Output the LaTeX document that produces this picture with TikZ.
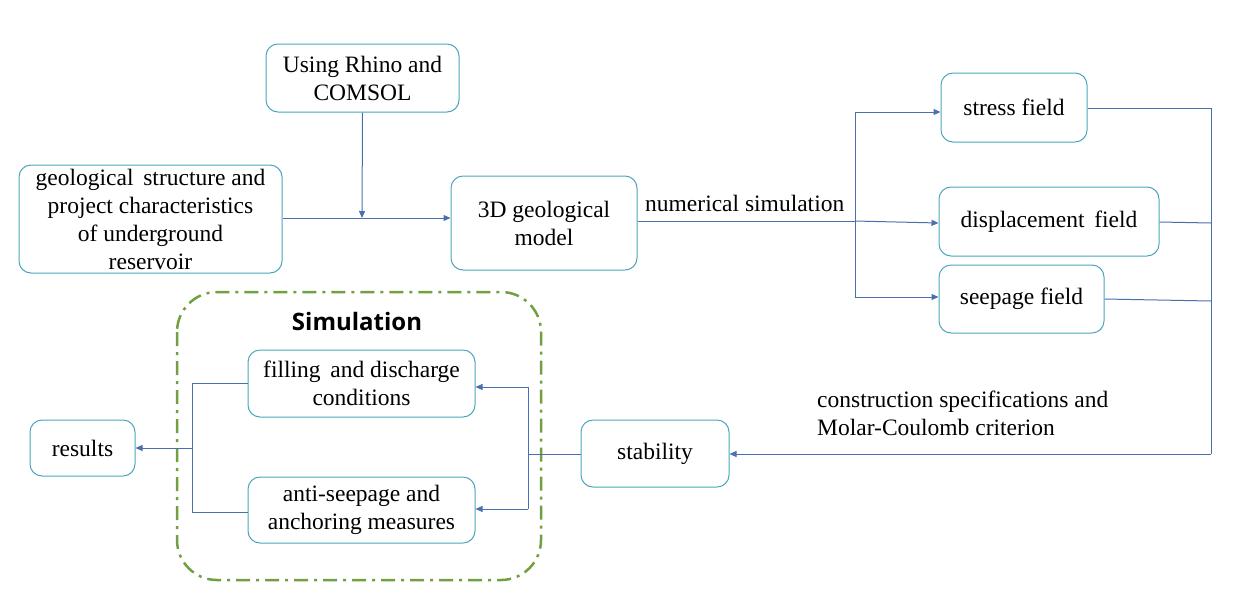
\documentclass[tikz,border=0pt]{standalone}
\usepackage{fontspec}
\setmainfont{Liberation Serif}
\newfontfamily\sanstitle{Open Sans}
\usetikzlibrary{arrows.meta}
\definecolor{boxc}{HTML}{4BA6BC}
\definecolor{linec}{HTML}{4A6FAF}
\definecolor{grn}{HTML}{70A040}
\tikzset{
  bx/.style={draw=boxc, line width=1pt, rounded corners=12pt, fill=white, align=center, inner sep=0pt, font=\fontsize{23.5}{28}\selectfont},
  ln/.style={draw=linec, line width=1pt},
  ar/.style={ln, -{Triangle[length=7pt,width=6pt]}},
  lbl/.style={font=\fontsize{23.5}{28}\selectfont, inner sep=0pt}
}
\begin{document}
\begin{tikzpicture}[x=1pt,y=-1pt]
\useasboundingbox (0,0) rectangle (1249,606);
% dashed group
\draw[grn, line width=2.5pt, dash pattern=on 14pt off 6pt on 3pt off 6pt, rounded corners=40pt] (177,292) rectangle (541,580);
\node[font=\sanstitle\bfseries\fontsize{24}{28}\selectfont] (simt) at (357,321) {Simulation};
% boxes
\node[bx, minimum width=193pt, minimum height=68pt] (rhino) at (362.5,78) {Using Rhino and\\COMSOL};
\node[bx, minimum width=263pt, minimum height=108pt] (geo) at (150.5,219) {geological\, structure and\\project characteristics\\of underground\\reservoir};
\node[bx, minimum width=186pt, minimum height=94pt] (model) at (544,223) {3D geological\\model};
\node[bx, minimum width=146pt, minimum height=69pt] (stress) at (1014,107.5) {stress field};
\node[bx, minimum width=220pt, minimum height=69pt] (disp) at (1049,221.5) {displacement\, field};
\node[bx, minimum width=165pt, minimum height=68pt] (seep) at (1021.5,299) {seepage field};
\node[bx, minimum width=148pt, minimum height=67pt] (stab) at (655,453.5) {stability};
\node[bx, minimum width=105pt, minimum height=56pt] (res) at (82.5,448) {results};
\node[bx, minimum width=227pt, minimum height=67pt] (fill) at (361.5,383.5) {filling\, and discharge\\conditions};
\node[bx, minimum width=227pt, minimum height=66pt] (anti) at (361.5,510) {anti-seepage and\\anchoring measures};
% labels
\node[lbl, anchor=base west] (numlbl) at (645,211) {numerical simulation};
\node[lbl, anchor=base west, align=left] (crit) at (817,435) {construction specifications and\\Molar-Coulomb criterion};
% coordinates
\coordinate (j1) at (362,218);
\coordinate (b1) at (855,221);
\coordinate (r1) at (1211,108);
\coordinate (r2) at (1211,454);
\coordinate (s1) at (528,454);
\coordinate (l1) at (192,448);
% connectors
\draw[ar] (geo.east |- j1) -- (model.west |- j1);
\draw[ar] (rhino.south) -- (j1);
\draw[ln] (model.east |- b1) -- (b1);
\draw[ln] (b1 |- 0,112) -- (b1 |- 0,297);
\draw[ar] (b1 |- 0,112) -- (stress.west |- 0,112);
\draw[ar] (b1) -- (disp.west |- 0,223);
\draw[ar] (b1 |- 0,297) -- (seep.west |- 0,297);
\draw[ln] (stress.east |- 0,108) -- (r1);
\draw[ln] (disp.east |- 0,222) -- (r1 |- 0,223);
\draw[ln] (seep.east |- 0,299) -- (r1 |- 0,301);
\draw[ln] (r1) -- (r2);
\draw[ar] (r2) -- (stab.east |- r2);
\draw[ln] (stab.west |- s1) -- (s1);
\draw[ln] (s1 |- 0,387) -- (s1 |- 0,509);
\draw[ar] (s1 |- 0,387) -- (fill.east |- 0,387);
\draw[ar] (s1 |- 0,509) -- (anti.east |- 0,509);
\draw[ln] (fill.west |- 0,383) -- (l1 |- 0,383) -- (l1 |- 0,512) -- (anti.west |- 0,512);
\draw[ar] (l1) -- (res.east |- l1);
\end{tikzpicture}
\end{document}
